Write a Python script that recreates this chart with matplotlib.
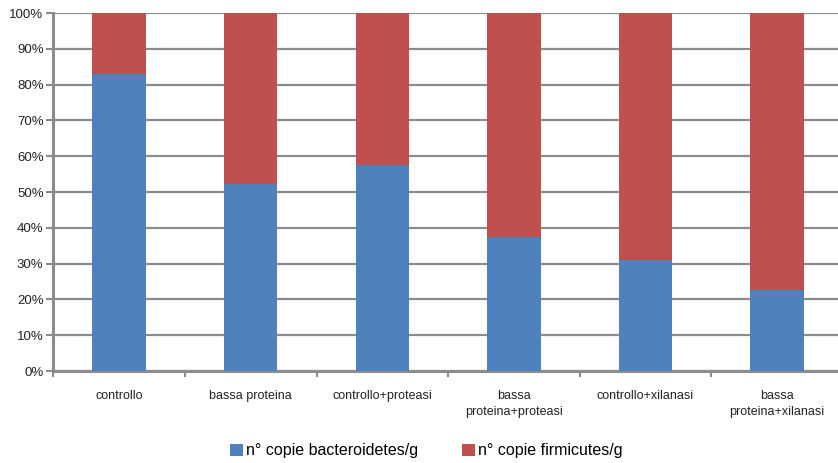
import matplotlib
matplotlib.use("Agg")
import matplotlib.pyplot as plt
import numpy as np
from matplotlib.ticker import PercentFormatter, FixedLocator

categories = ["controllo", "bassa proteina", "controllo+proteasi",
              "bassa\nproteina+proteasi", "controllo+xilanasi", "bassa\nproteina+xilanasi"]
bacteroidetes = [82.9, 52.1, 57.5, 37.5, 30.9, 22.6]
firmicutes = [100 - v for v in bacteroidetes]
series_names = ["n° copie bacteroidetes/g", "n° copie firmicutes/g"]

plt.rcParams['font.family'] = ['Liberation Sans', 'DejaVu Sans']

fig = plt.figure(figsize=(8.38, 4.63), dpi=100)
ax = fig.add_axes([0.0636, 0.1987, 0.9423, 0.7732])

x = np.arange(len(categories))
w = 0.405
blue = "#4F81BD"
red = "#C0504D"
b1 = ax.bar(x, bacteroidetes, w, color=blue, label=series_names[0], zorder=3)
b2 = ax.bar(x, firmicutes, w, bottom=bacteroidetes, color=red, label=series_names[1], zorder=3)

ax.set_xlim(-0.5, len(categories) - 0.5)
ax.set_ylim(0, 100)
ax.yaxis.set_major_locator(FixedLocator(np.arange(0, 101, 10)))
ax.yaxis.set_major_formatter(PercentFormatter(decimals=0))
ax.grid(axis='y', color='#8c8c8c', linewidth=1.6, zorder=0)
ax.set_axisbelow(True)

for s in ['top', 'right']:
    ax.spines[s].set_visible(False)
for s in ['left', 'bottom']:
    ax.spines[s].set_color('#8c8c8c')
    ax.spines[s].set_linewidth(2.2)

ax.set_xticks(x)
ax.set_xticklabels(categories, fontsize=9, color='#222222', linespacing=1.45)
ax.tick_params(axis='x', length=0, pad=14)
ax.set_xticks(np.arange(-0.5, len(categories), 1), minor=True)
ax.tick_params(axis='x', which='minor', length=4, color='#8c8c8c', width=1.5)
ax.tick_params(axis='y', length=5, color='#8c8c8c', width=1.5, labelsize=9.5, labelcolor='#222222', pad=2)

fig.legend(handles=[b1, b2], labels=series_names, loc='center', bbox_to_anchor=(0.509, 0.026),
           ncol=2, frameon=False, fontsize=11.5, handlelength=0.8, handleheight=0.85,
           handletextpad=0.2, columnspacing=2.75)

fig.savefig("out.png", dpi=100)
